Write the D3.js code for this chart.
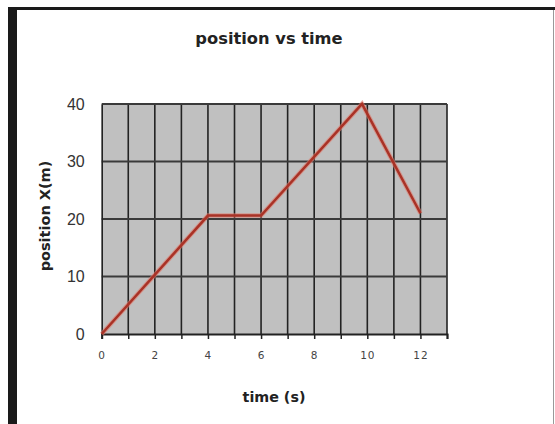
<!DOCTYPE html>
<html><head><meta charset="utf-8">
<script src="https://cdn.jsdelivr.net/npm/d3@7"></script>
<style>html,body{margin:0;padding:0;background:#fff;}svg{display:block;}</style>
</head><body>
<script>
const times = [0, 4, 6, 9.8, 12];
const positions = [0, 20.6, 20.6, 40, 21];
const xTickLabels = [0, 2, 4, 6, 8, 10, 12];
const yTickLabels = [0, 10, 20, 30, 40];
const title = "position vs time";
const xTitle = "time (s)";
const yTitle = "position X(m)";

const W = 555, H = 424;
const svg = d3.select("body").append("svg").attr("width", W).attr("height", H);
// frame
svg.append("rect").attr("x",0).attr("y",0).attr("width",W).attr("height",H).attr("fill","#fff");
svg.append("rect").attr("x",8).attr("y",7).attr("width",W-8).attr("height",3).attr("fill","#1a1a1a");
svg.append("rect").attr("x",8).attr("y",7).attr("width",9).attr("height",H-7).attr("fill","#1a1a1a");
svg.append("rect").attr("x",553).attr("y",10).attr("width",1).attr("height",H-10).attr("fill","#999");

const x = d3.scaleLinear().domain([0, 13]).range([101.7, 447]);
const y = d3.scaleLinear().domain([0, 40]).range([334, 104]);

svg.append("rect").attr("x", x(0)).attr("y", y(40)).attr("width", x(13)-x(0)).attr("height", y(0)-y(40)).attr("fill", "#c0c0c0");

// vertical grid
svg.append("g").selectAll("line").data(d3.range(1, 14)).join("line")
  .attr("x1", d => x(d)).attr("x2", d => x(d)).attr("y1", y(40)).attr("y2", y(0))
  .attr("stroke", "#222").attr("stroke-width", 1.6);
// horizontal grid
svg.append("g").selectAll("line").data([10, 20, 30, 40]).join("line")
  .attr("x1", x(0)).attr("x2", x(13)).attr("y1", d => y(d)).attr("y2", d => y(d))
  .attr("stroke", "#3a3a3a").attr("stroke-width", 2);

// axes
const xAxis = d3.axisBottom(x).tickValues(d3.range(0, 14)).tickSize(5)
  .tickFormat(d => xTickLabels.includes(d) ? d : "");
const gx = svg.append("g").attr("transform", `translate(0,${y(0)})`).call(xAxis);
gx.select(".domain").attr("stroke", "#222").attr("stroke-width", 2);
gx.selectAll(".tick line").attr("stroke", "#222").attr("stroke-width", 1.5);
gx.selectAll(".tick text").attr("font-family", "DejaVu Sans, sans-serif")
  .attr("font-size", 10.5).attr("letter-spacing", 1).attr("fill", "#444").attr("dy", "1.6em");

const yAxis = d3.axisLeft(y).tickValues(yTickLabels).tickSize(0).tickPadding(17);
const gy = svg.append("g").attr("transform", `translate(${x(0)},0)`).call(yAxis);
gy.select(".domain").attr("stroke", "#222").attr("stroke-width", 1.6);
gy.selectAll(".tick text").attr("font-family", "Liberation Sans, sans-serif")
  .attr("font-size", 16).attr("fill", "#333");

// data line
const line = d3.line().x(d => x(d[0])).y(d => y(d[1]));
svg.append("path").datum(times.map((t, i) => [t, positions[i]]))
  .attr("d", line).attr("fill", "none").attr("stroke", "#e07a6a").attr("stroke-width", 4.5).attr("stroke-linejoin","miter").attr("opacity",0.6);
svg.append("path").datum(times.map((t, i) => [t, positions[i]]))
  .attr("d", line).attr("fill", "none").attr("stroke", "#a93226").attr("stroke-width", 2.5).attr("stroke-linejoin","miter");

// titles
svg.append("text").attr("x", 269).attr("y", 44).attr("text-anchor", "middle")
  .attr("font-family", "DejaVu Sans, sans-serif").attr("font-weight", "bold")
  .attr("font-size", 16.3).attr("fill", "#222").text(title);
svg.append("text").attr("x", 274).attr("y", 402).attr("text-anchor", "middle")
  .attr("font-family", "DejaVu Sans, sans-serif").attr("font-weight", "bold")
  .attr("font-size", 14.3).attr("fill", "#222").text(xTitle);
svg.append("text").attr("transform", "translate(50,216) rotate(-90)").attr("text-anchor", "middle")
  .attr("font-family", "DejaVu Sans, sans-serif").attr("font-weight", "bold")
  .attr("font-size", 14.5).attr("fill", "#222").text(yTitle);
</script>
</body></html>
